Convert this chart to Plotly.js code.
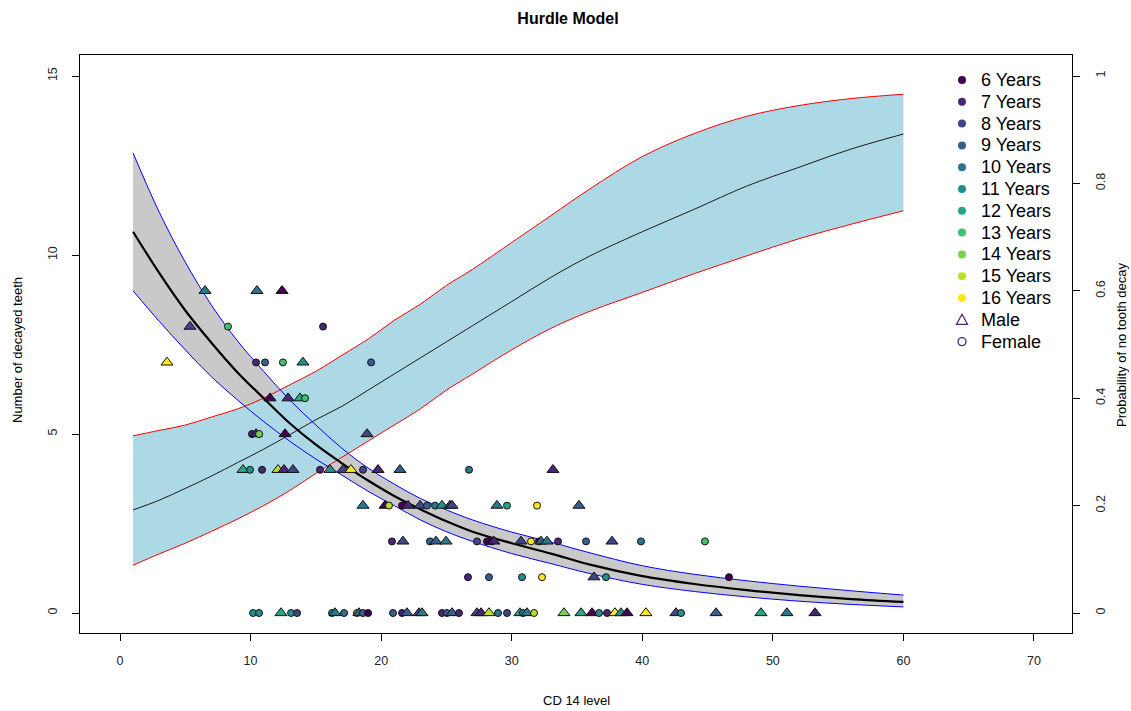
<!DOCTYPE html>
<html>
<head>
<meta charset="utf-8">
<script src="https://cdn.plot.ly/plotly-3.0.1.min.js"></script>
<style>html,body{margin:0;padding:0;background:#fff;}#chart{width:1131px;height:711px;}</style>
</head>
<body>
<div id="chart"></div>
<script>
// ---------- data ----------
const curveX = [1,3,5,7,9,11,13,15,17,19,21,23,25,27,30,33,36,40,44,48,52,56,60];
const countMean  = [10.65,9.5,8.45,7.55,6.72,6.0,5.3,4.7,4.18,3.7,3.27,2.9,2.56,2.27,1.95,1.66,1.35,1.03,0.81,0.64,0.5,0.39,0.31];
const countUpper = [12.85,11.2,9.8,8.6,7.6,6.75,5.95,5.25,4.6,4.05,3.6,3.2,2.88,2.6,2.26,1.98,1.68,1.32,1.08,0.9,0.75,0.62,0.5];
const countLower = [9.0,8.15,7.35,6.6,5.95,5.35,4.8,4.3,3.85,3.4,3.0,2.6,2.27,2.0,1.66,1.38,1.1,0.8,0.6,0.45,0.33,0.24,0.17];
const probMean  = [0.192,0.21,0.232,0.255,0.28,0.305,0.332,0.36,0.385,0.415,0.445,0.475,0.505,0.535,0.58,0.625,0.665,0.71,0.752,0.795,0.83,0.864,0.892];
const probUpper = [0.33,0.34,0.35,0.365,0.38,0.4,0.425,0.45,0.48,0.51,0.545,0.575,0.61,0.64,0.69,0.74,0.79,0.85,0.893,0.925,0.945,0.958,0.966];
const probLower = [0.089,0.11,0.13,0.152,0.175,0.2,0.228,0.26,0.29,0.32,0.35,0.38,0.415,0.445,0.49,0.53,0.562,0.597,0.632,0.665,0.697,0.724,0.749];

// observed points: CD14 level, decayed teeth, age, sex
const ptX = [6.51,10.49,12.41, 5.36,8.27,15.55, 3.60,10.42,11.11,12.48,14.01,19.23, 11.49,12.87,13.79,14.17,
  10.11,10.42,10.65,12.64,18.92,
  9.42,9.96,10.88,12.10,12.56,13.25,15.32,16.08,17.08,17.69,18.61,19.76,21.44,26.73,33.16,
  18.61,20.30,20.60,21.60,22.06,22.98,23.51,24.13,24.66,25.27,25.43,28.87,29.64,31.94,35.15,
  20.83,21.67,23.74,24.20,24.97,27.34,28.11,28.49,28.64,30.71,31.48,32.09,32.24,32.70,33.55,35.69,37.68,39.90,44.80,
  26.65,28.26,30.79,32.32,36.30,37.22,46.64,
  10.19,10.65,12.33,13.10,13.56,16.24,16.47,17.16,18.15,18.30,18.61,19.0,20.91,21.60,21.98,22.90,23.13,24.66,25.04,25.43,25.96,
  27.34,27.65,28.26,28.95,29.64,30.63,30.86,31.17,31.71,34.00,35.31,36.15,36.69,37.30,37.91,38.37,38.83,40.28,42.58,42.97,45.65,49.09,51.08,53.23];
const ptY = [9,9,9, 8,8,8, 7,7,7,7,7,7, 6,6,6,6,
  5,5,5,5,5,
  4,4,4,4,4,4,4,4,4,4,4,4,4,4,4,
  3,3,3,3,3,3,3,3,3,3,3,3,3,3,3,
  2,2,2,2,2,2,2,2,2,2,2,2,2,2,2,2,2,2,2,
  1,1,1,1,1,1,1,
  0,0,0,0,0,0,0,0,0,0,0,0,0,0,0,0,0,0,0,0,0,
  0,0,0,0,0,0,0,0,0,0,0,0,0,0,0,0,0,0,0,0,0,0,0,0];
const ptAge = [10,10,6, 8,13,7, 16,7,9,13,11,9, 6,7,12,13,
  7,7,14,6,8,
  12,11,7,15,7,8,7,11,8,16,8,7,9,10,7,
  10,6,15,6,7,8,9,10,11,8,8,10,12,16,9,
  7,8,9,9,10,8,6,6,7,8,16,6,9,10,7,9,8,10,13,
  7,9,11,16,8,11,6,
  11,11,12,11,8,11,10,10,14,9,9,6,9,7,9,8,10,7,9,9,7,
  8,7,15,10,8,12,10,10,15,14,12,6,11,7,16,11,6,16,8,11,9,12,10,7];
const ptSex = ['M','M','M', 'M','F','F', 'M','F','F','F','M','F', 'M','M','M','F',
  'F','M','F','M','M',
  'M','F','F','M','M','M','F','M','M','M','F','M','M','F','M',
  'M','M','F','F','M','M','F','F','M','M','M','M','F','F','M',
  'F','M','F','M','M','F','F','F','M','M','F','F','M','M','F','F','M','F','F',
  'F','F','F','F','M','F','F',
  'F','F','M','F','F','F','M','F','F','M','F','F','F','F','M','M','M','F','F','M','F',
  'M','M','M','F','F','M','F','M','F','M','M','M','F','F','M','M','M','M','M','F','M','M','M','M'];

const ageLabels = ['6 Years','7 Years','8 Years','9 Years','10 Years','11 Years','12 Years','13 Years','14 Years','15 Years','16 Years'];
const ageColors = ['#440154','#482576','#414487','#35608D','#2A788E','#21908C','#22A884','#43BF71','#7AD151','#BBDF27','#FDE725'];
const sexLabels = ['Male','Female'];

// ---------- layout helpers ----------
const L = 80, R = 1072, T = 55, B = 633;
const px2x = p => (p - L) / (R - L);
const py2y = p => (B - p) / (B - T);
const FONT = 'Liberation Sans, Arial, sans-serif';

const traces = [];
// gray band (count CI) on base axis
traces.push({x: curveX, y: countLower, xaxis:'x', yaxis:'y', mode:'lines', line:{width:0, shape:'spline'}, hoverinfo:'skip', showlegend:false});
traces.push({x: curveX, y: countUpper, xaxis:'x', yaxis:'y', mode:'lines', fill:'tonexty', fillcolor:'#C9C9C9', line:{width:0, shape:'spline'}, hoverinfo:'skip', showlegend:false});
// blue band (probability CI) on right axis
traces.push({x: curveX, y: probLower, xaxis:'x', yaxis:'y2', mode:'lines', line:{color:'#FF0000', width:1, shape:'spline'}, hoverinfo:'skip', showlegend:false});
traces.push({x: curveX, y: probUpper, xaxis:'x', yaxis:'y2', mode:'lines', fill:'tonexty', fillcolor:'#ADD8E6', line:{color:'#FF0000', width:1, shape:'spline'}, hoverinfo:'skip', showlegend:false});
traces.push({x: curveX, y: probMean, xaxis:'x', yaxis:'y2', mode:'lines', line:{color:'#1a1a1a', width:1, shape:'spline'}, hoverinfo:'skip', showlegend:false});
// count CI border lines and mean on top axis
traces.push({x: curveX, y: countUpper, xaxis:'x', yaxis:'y3', mode:'lines', line:{color:'#0000FF', width:1, shape:'spline'}, hoverinfo:'skip', showlegend:false});
traces.push({x: curveX, y: countLower, xaxis:'x', yaxis:'y3', mode:'lines', line:{color:'#0000FF', width:1, shape:'spline'}, hoverinfo:'skip', showlegend:false});
traces.push({x: curveX, y: countMean, xaxis:'x', yaxis:'y3', mode:'lines', line:{color:'#000000', width:2.2, shape:'spline'}, hoverinfo:'skip', showlegend:false});
// observed points
traces.push({
  x: ptX, y: ptY, xaxis:'x', yaxis:'y3', mode:'markers', showlegend:false,
  marker:{
    symbol: ptSex.map(s => s === 'M' ? 'triangle-up' : 'circle'),
    size: ptSex.map(s => s === 'M' ? 10.5 : 7),
    color: ptAge.map(a => ageColors[a - 6]),
    opacity: 1,
    line:{color:'#111', width:1}
  }
});

// ---------- legend (drawn manually to match spacing) ----------
const shapes = [];
const annotations = [];
const legMarkX = 962, legTextX = 979, legTop = 80, legStep = 21.8;
ageLabels.forEach((lab, i) => {
  const yc = legTop + i * legStep;
  shapes.push({type:'circle', xref:'paper', yref:'paper', xsizemode:'pixel', ysizemode:'pixel',
    xanchor: px2x(legMarkX), yanchor: py2y(yc), x0:-4, x1:4, y0:-4, y1:4,
    fillcolor: ageColors[i], line:{width:0}});
  annotations.push({xref:'paper', yref:'paper', x: px2x(legTextX), y: py2y(yc), xanchor:'left', yanchor:'middle',
    text: lab, showarrow:false, font:{family:FONT, size:18, color:'#000'}});
});
sexLabels.forEach((lab, j) => {
  const yc = legTop + (ageLabels.length + j) * legStep;
  if (j === 0) {
    shapes.push({type:'path', xref:'paper', yref:'paper', xsizemode:'pixel', ysizemode:'pixel',
      xanchor: px2x(legMarkX), yanchor: py2y(yc), path:'M-5.5,-4.5 L5.5,-4.5 L0,5.5 Z',
      fillcolor:'rgba(0,0,0,0)', line:{color:'#482576', width:1.3}});
  } else {
    shapes.push({type:'circle', xref:'paper', yref:'paper', xsizemode:'pixel', ysizemode:'pixel',
      xanchor: px2x(legMarkX), yanchor: py2y(yc), x0:-4, x1:4, y0:-4, y1:4,
      fillcolor:'rgba(0,0,0,0)', line:{color:'#482576', width:1.3}});
  }
  annotations.push({xref:'paper', yref:'paper', x: px2x(legTextX), y: py2y(yc), xanchor:'left', yanchor:'middle',
    text: lab, showarrow:false, font:{family:FONT, size:18, color:'#000'}});
});

// axis titles
annotations.push({xref:'paper', yref:'paper', x: px2x(576), y: py2y(700), text:'CD 14 level', showarrow:false,
  xanchor:'center', yanchor:'middle', font:{family:FONT, size:13, color:'#000'}});
annotations.push({xref:'paper', yref:'paper', x: px2x(18), y: py2y(350), text:'Number of decayed teeth', showarrow:false,
  textangle:-90, xanchor:'center', yanchor:'middle', font:{family:FONT, size:13, color:'#000'}});
annotations.push({xref:'paper', yref:'paper', x: px2x(1121), y: py2y(345), text:'Probability of no tooth decay', showarrow:false,
  textangle:-90, xanchor:'center', yanchor:'middle', font:{family:FONT, size:13, color:'#000'}});

const tickFont = {family:FONT, size:12.5, color:'#222'};
const layout = {
  width:1131, height:711,
  margin:{l:L, r:1131 - R, t:T, b:711 - B, pad:0},
  paper_bgcolor:'#fff', plot_bgcolor:'#fff',
  showlegend:false,
  title:{text:'<b>Hurdle Model</b>', x:568/1131, xref:'container', y:1 - 18/711, yref:'container', xanchor:'center', yanchor:'middle',
    font:{family:FONT, size:16, color:'#000'}},
  xaxis:{range:[(L - 120) / 13.057, (R - 120) / 13.057], tickvals:[0,10,20,30,40,50,60,70], ticks:'outside', ticklen:7,
    tickcolor:'#000', showgrid:false, zeroline:false, showline:true, mirror:true, linecolor:'#000', linewidth:1,
    tickfont:tickFont, ticklabelstandoff:9},
  yaxis:{range:[(613 - B) / 35.8, (613 - T) / 35.8], tickvals:[0,5,10,15], ticks:'outside', ticklen:7, tickcolor:'#000',
    showgrid:false, zeroline:false, showline:true, mirror:true, linecolor:'#000', linewidth:1,
    tickangle:-90, tickfont:tickFont, ticklabelstandoff:10},
  yaxis2:{overlaying:'y', side:'right', range:[(613 - B) / 537, (613 - T) / 537], tickvals:[0,0.2,0.4,0.6,0.8,1],
    ticktext:['0','0.2','0.4','0.6','0.8','1'],
    ticks:'outside', ticklen:7, tickcolor:'#000', showgrid:false, zeroline:false, showline:false,
    tickangle:-90, tickfont:tickFont, ticklabelstandoff:10},
  yaxis3:{overlaying:'y', range:[(613 - B) / 35.8, (613 - T) / 35.8], visible:false, showgrid:false, zeroline:false},
  shapes: shapes,
  annotations: annotations
};

Plotly.newPlot('chart', traces, layout, {staticPlot:true, displayModeBar:false});
</script>
</body>
</html>
